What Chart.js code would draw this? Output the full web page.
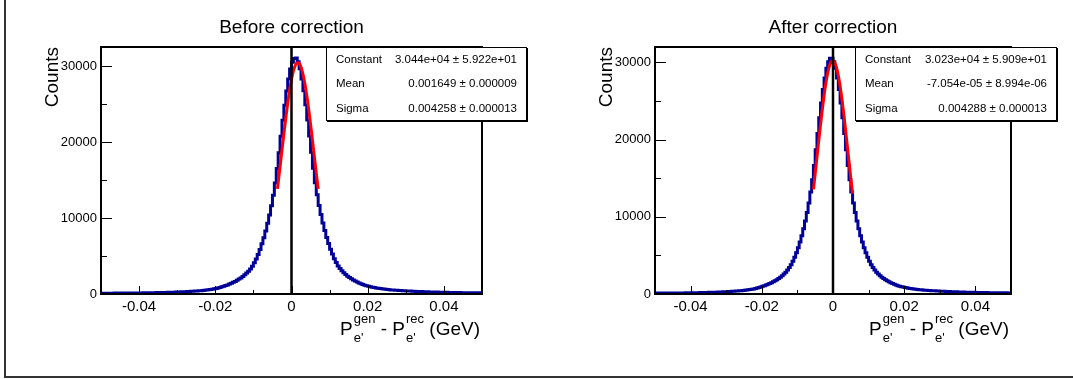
<!DOCTYPE html>
<html><head><meta charset="utf-8">
<script src="https://cdn.jsdelivr.net/npm/chart.js@4/dist/chart.umd.min.js"></script>
<style>
html,body{margin:0;padding:0;background:#fff;}
#wrap{position:relative;width:1073px;height:379px;overflow:hidden;background:#fff;}
#border{position:absolute;left:4px;top:-5px;width:1090px;height:383px;border-left:2px solid #333;border-bottom:2px solid #333;box-sizing:border-box;}
canvas{position:absolute;top:0;}
</style></head><body>
<div id="wrap"><div id="border"></div>
<canvas id="c1" width="536" height="379" style="left:0px"></canvas>
<canvas id="c2" width="537" height="379" style="left:536px"></canvas>
</div>
<script>
// ---------------- DATA ----------------
const panelTitles = ['Before correction', 'After correction'];
const xRange = [-0.05, 0.05];
const nBins = 200;
const xTickValues = [-0.04, -0.02, 0, 0.02, 0.04];
const xTickLabels = ['-0.04', '-0.02', '0', '0.02', '0.04'];
const xMinorTickValues = [-0.04, -0.03, -0.02, -0.01, 0, 0.01, 0.02, 0.03, 0.04];
const yTickValues = [0, 10000, 20000, 30000];
const yTickLabels = ['0', '10000', '20000', '30000'];
const yMinorTickValues = [0, 5000, 10000, 15000, 20000, 25000, 30000];
const yMaxBefore = 32500;
const yMaxAfter = 32000;

const beforeCounts = [
108,109,110,111,112,113,114,115,116,117,119,121,123,125,127,129,131,133,135,138,
141,144,147,150,154,158,162,166,171,176,181,187,193,199,206,213,220,228,236,245,
254,264,275,286,298,310,323,337,352,367,383,400,420,440,462,490,520,550,585,620,
675,735,800,870,950,
1030,1110,1200,1300,1410,1530,1660,1800,1960,2120,2300,2520,2750,3000,3300,3650,
4100,4600,5200,5850,6600,7400,8300,9300,10400,11600,13000,14600,16500,18600,20750,
22850,24850,26700,28300,29600,30500,31000,
31050,30550,29650,28300,26750,24900,22900,20800,18650,16550,14650,13050,11650,10450,
9350,8350,7450,6650,5900,5250,4650,4150,3700,3350,3050,2800,2570,2350,2170,2010,
1850,1710,1580,1460,1350,1250,1160,1080,
1010,950,895,845,800,760,720,685,650,620,592,566,542,520,500,482,465,449,434,420,
406,393,380,368,356,345,334,324,314,305,296,287,279,271,263,256,249,242,236,230,
224,218,212,207,202,197,192,188,184,180,176,172,168,165,162,159,156,153,150
];

const afterCounts = [
112,113,114,115,116,117,119,121,123,125,127,129,131,133,135,138,141,144,147,150,
154,158,162,166,171,176,181,186,192,198,204,211,218,226,234,242,251,261,271,282,
293,305,317,330,344,359,375,392,411,432,455,480,508,540,575,615,660,715,775,840,
910,990,
1080,1160,1250,1350,1460,1580,1710,1850,2010,2180,2370,2590,2830,3100,3420,3800,
4250,4750,5350,6000,6750,7550,8450,9450,10550,11800,13200,14800,16650,18700,
20800,22850,24750,26500,28000,29250,30100,30550,
30550,30100,29250,28000,26500,24750,22850,20800,18700,16650,14800,13200,11800,10550,
9450,8450,7550,6750,6000,5350,4750,4250,3800,3420,3100,2830,2590,2370,2180,2010,
1850,1710,1580,1460,1350,1250,1160,1080,
1010,950,895,845,800,760,720,685,650,620,592,566,542,520,500,482,465,449,434,420,
406,393,380,368,356,345,334,324,314,305,296,287,279,271,263,256,249,242,236,230,
224,218,212,207,202,197,192,188,184,180,176,172,168,165,162,159,156,153,150,148,146,144
];

const beforeFitX = [-0.0037,-0.0030,-0.0025,-0.0020,-0.0015,-0.0010,-0.0005,0,0.0005,0.0010,0.0015,0.0020,0.0025,0.0030,0.0035,0.0040,0.0045,0.0050,0.0055,0.0060,0.0065,0.0070];
const beforeFitY = [13830,16770,18940,21090,23160,25090,26800,28240,29350,30090,30420,30340,29840,28950,27690,26140,24330,22330,20220,18060,15910,13820];
const afterFitX = [-0.0055,-0.0050,-0.0045,-0.0040,-0.0035,-0.0030,-0.0025,-0.0020,-0.0015,-0.0010,-0.0005,0,0.0005,0.0010,0.0015,0.0020,0.0025,0.0030,0.0035,0.0040,0.0045,0.0050,0.0055];
const afterFitY = [13560,15610,17730,19870,21960,23940,25750,27320,28600,29530,30080,30230,29960,29300,28270,26910,25260,23390,21370,19260,17130,15020,13000];

const statLabels = ['Constant', 'Mean', 'Sigma'];
const beforeStatValues = ['3.044e+04 \u00b1 5.922e+01', '0.001649 \u00b1 0.000009', '0.004258 \u00b1 0.000013'];
const afterStatValues = ['3.023e+04 \u00b1 5.909e+01', '-7.054e-05 \u00b1 8.994e-06', '0.004288 \u00b1 0.000013'];

// ---------------- RENDER ----------------
const FONT = '"Liberation Sans", Arial, Helvetica, sans-serif';

function histPoints(counts) {
  const w = (xRange[1] - xRange[0]) / nBins;
  const pts = counts.map((c, i) => ({x: xRange[0] + i * w, y: c}));
  pts.push({x: xRange[1], y: counts[counts.length - 1]});
  return pts;
}
function zip(xs, ys) { return xs.map((x, i) => ({x: x, y: ys[i]})); }

const rootDecor = {
  id: 'rootDecor',
  afterDraw(chart, args, o) {
    const ctx = chart.ctx, a = chart.chartArea, xs = chart.scales.x, ys = chart.scales.y;
    ctx.save();
    ctx.strokeStyle = '#000'; ctx.lineWidth = 1;
    ctx.beginPath();
    xMinorTickValues.forEach(v => {
      const px = Math.round(xs.getPixelForValue(v)) + 0.5;
      const len = xTickValues.includes(v) ? 8 : 4;
      ctx.moveTo(px, a.bottom); ctx.lineTo(px, a.bottom - len);
    });
    yMinorTickValues.forEach(v => {
      const py = Math.round(ys.getPixelForValue(v)) + 0.5;
      const len = yTickValues.includes(v) ? 11 : 6;
      ctx.moveTo(a.left, py); ctx.lineTo(a.left + len, py);
    });
    ctx.stroke();
    ctx.lineWidth = 2;
    ctx.strokeRect(a.left, a.top, a.right - a.left, a.bottom - a.top);
    ctx.fillStyle = '#000';
    ctx.font = '19px ' + FONT;
    ctx.textAlign = 'center'; ctx.textBaseline = 'alphabetic';
    ctx.fillText(o.title, (a.left + a.right) / 2, 33);
    ctx.save();
    ctx.translate(a.left - 43, a.top);
    ctx.rotate(-Math.PI / 2);
    ctx.textAlign = 'right'; ctx.textBaseline = 'alphabetic';
    ctx.font = '19px ' + FONT;
    ctx.fillText('Counts', 0, 0);
    ctx.restore();
    const main = '19px ' + FONT, scr = '13px ' + FONT;
    const segs = [
      {t: 'P'}, {sup: 'gen', sub: "e'"}, {t: ' - P'}, {sup: 'rec', sub: "e'"}, {t: ' (GeV)'}
    ];
    let total = 0;
    segs.forEach(s => {
      if (s.t !== undefined) { ctx.font = main; s.w = ctx.measureText(s.t).width; }
      else { ctx.font = scr; s.w = Math.max(ctx.measureText(s.sup).width, ctx.measureText(s.sub).width) + 1; }
      total += s.w;
    });
    let cx = a.right - 2 - total, base = 335;
    ctx.textAlign = 'left';
    segs.forEach(s => {
      if (s.t !== undefined) { ctx.font = main; ctx.fillText(s.t, cx, base); }
      else { ctx.font = scr; ctx.fillText(s.sup, cx + 1, base - 12); ctx.fillText(s.sub, cx + 1, base + 7); }
      cx += s.w;
    });
    const b = o.box;
    ctx.fillStyle = '#000';
    ctx.fillRect(b.x + 1, b.y + 1, b.w, b.h);
    ctx.fillStyle = '#fff';
    ctx.fillRect(b.x, b.y, b.w, b.h);
    ctx.lineWidth = 1; ctx.strokeStyle = '#000';
    ctx.strokeRect(b.x + 0.5, b.y + 0.5, b.w - 1, b.h - 1);
    ctx.fillStyle = '#000';
    ctx.font = '11.5px ' + FONT;
    ctx.textBaseline = 'middle';
    const rowH = b.h / 3;
    statLabels.forEach((lab, i) => {
      const ry = b.y + rowH * (i + 0.5);
      ctx.textAlign = 'left'; ctx.fillText(lab, b.x + 10, ry);
      ctx.textAlign = 'right'; ctx.fillText(o.values[i], b.x + b.w - 10, ry);
    });
    ctx.restore();
  }
};

function makeChart(id, counts, fitX, fitY, yMax, title, values, yAxisW, padRight, box) {
  return new Chart(document.getElementById(id), {
    type: 'line',
    data: {
      datasets: [
        {data: [{x: 0, y: 0}, {x: 0, y: yMax}], borderColor: '#000', borderWidth: 2.5, pointRadius: 0, fill: false},
        {data: zip(fitX, fitY), borderColor: '#ff0000', borderWidth: 3, pointRadius: 0, tension: 0.4, cubicInterpolationMode: 'monotone', fill: false},
        {data: histPoints(counts), borderColor: '#000099', borderWidth: 3, pointRadius: 0, stepped: 'after', fill: false}
      ]
    },
    options: {
      responsive: false, animation: false, devicePixelRatio: 1,
      parsing: false, normalized: true,
      layout: {padding: {top: 47, right: padRight, left: 0, bottom: 0}},
      plugins: {legend: {display: false}, tooltip: {enabled: false}, title: {display: false},
        rootDecor: {title: title, values: values, box: box}},
      scales: {
        x: {
          type: 'linear', min: xRange[0], max: xRange[1],
          grid: {display: false, drawTicks: false}, border: {display: false},
          afterBuildTicks: s => { s.ticks = xTickValues.map(v => ({value: v})); },
          afterFit: s => { s.height = 379 - 294; },
          ticks: {padding: 4, color: '#000', font: {family: FONT, size: 15}, maxRotation: 0,
            callback: (v) => { const k = xTickValues.findIndex(t => Math.abs(t - v) < 1e-9); return k >= 0 ? xTickLabels[k] : ''; }}
        },
        y: {
          type: 'linear', min: 0, max: yMax,
          grid: {display: false, drawTicks: false}, border: {display: false},
          afterBuildTicks: s => { s.ticks = yTickValues.map(v => ({value: v})); },
          afterFit: s => { s.width = yAxisW; },
          ticks: {padding: 4, color: '#000', font: {family: FONT, size: 13},
            callback: (v) => { const k = yTickValues.indexOf(v); return k >= 0 ? yTickLabels[k] : ''; }}
        }
      }
    },
    plugins: [rootDecor]
  });
}

makeChart('c1', beforeCounts, beforeFitX, beforeFitY, yMaxBefore, panelTitles[0], beforeStatValues, 101, 54, {x: 326, y: 47, w: 201, h: 74});
makeChart('c2', afterCounts, afterFitX, afterFitY, yMaxAfter, panelTitles[1], afterStatValues, 119, 62, {x: 319, y: 47, w: 202, h: 74});
</script>
</body></html>
